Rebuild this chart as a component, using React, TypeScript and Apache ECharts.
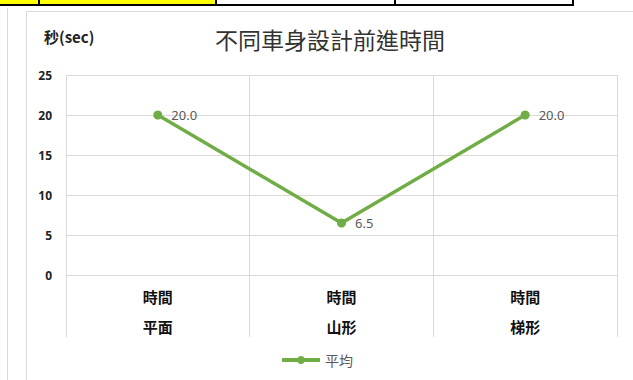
import React, { useEffect, useRef } from "react";
import * as echarts from "echarts";

const categoriesTop = ["時間", "時間", "時間"];
const categoriesBottom = ["平面", "山形", "梯形"];
const averageValues = [20.0, 6.5, 20.0];
const seriesName = "平均";
const chartTitle = "不同車身設計前進時間";
const yAxisName = "秒(sec)";

const CJK = '"Noto Sans CJK TC", "Noto Sans", sans-serif';

export default function App() {
  const ref = useRef<HTMLDivElement>(null);
  useEffect(() => {
    if (!ref.current) return;
    const chart = echarts.init(ref.current, null, { renderer: "svg" });
    const cats = categoriesTop.map((t, i) => t + "\n" + categoriesBottom[i]);
    chart.setOption({
      animation: false,
      backgroundColor: "#ffffff",
      title: {
        text: chartTitle,
        left: 210,
        top: 22,
        textStyle: { fontFamily: CJK, fontSize: 23, fontWeight: "normal", color: "#333333" },
      },
      legend: {
        data: [seriesName],
        left: "center",
        top: 348,
        itemWidth: 38,
        itemHeight: 10,
        lineStyle: { width: 4 },
        textStyle: { fontFamily: CJK, fontSize: 14, color: "#595959" },
      },
      grid: { left: 66, top: 75, right: 16, bottom: 105, containLabel: false },
      xAxis: {
        type: "category",
        data: cats,
        boundaryGap: true,
        axisLine: { show: true, lineStyle: { color: "#d9d9d9", width: 1 } },
        axisTick: { show: true, length: 62, interval: 0, lineStyle: { color: "#d9d9d9", width: 1 } },
        splitLine: { show: true, interval: 0, lineStyle: { color: "#d9d9d9", width: 1 } },
        axisLabel: {
          interval: 0,
          margin: 6,
          fontFamily: CJK,
          fontSize: 15,
          fontWeight: "bold",
          color: "#111111",
          lineHeight: 30,
        },
      },
      yAxis: {
        type: "value",
        min: 0,
        max: 25,
        interval: 5,
        axisLine: { show: false },
        axisTick: { show: false },
        splitLine: { show: true, lineStyle: { color: "#d9d9d9", width: 1 } },
        axisLabel: {
          margin: 14,
          fontFamily: '"Open Sans", "Noto Sans", sans-serif',
          fontSize: 12,
          fontWeight: "bold",
          color: "#222222",
        },
      },
      series: [
        {
          name: seriesName,
          type: "line",
          data: averageValues,
          symbol: "circle",
          symbolSize: 9,
          itemStyle: { color: "#70AD47" },
          lineStyle: { color: "#70AD47", width: 3.5 },
          label: {
            show: true,
            position: "right",
            distance: 9,
            formatter: (p: any) => Number(p.value).toFixed(1),
            fontFamily: '"Noto Sans", sans-serif',
            fontSize: 13,
            color: "#595959",
          },
        },
      ],
      graphic: [
        { type: "rect", shape: { x: 0, y: 0, width: 216, height: 4 }, style: { fill: "#ffff00" }, silent: true },
        { type: "rect", shape: { x: 0, y: 4, width: 574, height: 2 }, style: { fill: "#000000" }, silent: true },
        { type: "rect", shape: { x: 38, y: 0, width: 2, height: 5 }, style: { fill: "#000000" }, silent: true },
        { type: "rect", shape: { x: 215, y: 0, width: 2, height: 5 }, style: { fill: "#000000" }, silent: true },
        { type: "rect", shape: { x: 394, y: 0, width: 2, height: 5 }, style: { fill: "#000000" }, silent: true },
        { type: "rect", shape: { x: 572, y: 0, width: 2, height: 5 }, style: { fill: "#000000" }, silent: true },
        { type: "line", shape: { x1: 7.5, y1: 8, x2: 7.5, y2: 380 }, style: { stroke: "#d9d9d9", lineWidth: 1 }, silent: true },
        { type: "line", shape: { x1: 26.5, y1: 11.5, x2: 26.5, y2: 380 }, style: { stroke: "#d9d9d9", lineWidth: 1 }, silent: true },
        { type: "line", shape: { x1: 26.5, y1: 11.5, x2: 633, y2: 11.5 }, style: { stroke: "#d9d9d9", lineWidth: 1 }, silent: true },
        {
          type: "text",
          left: 44,
          top: 29,
          style: { text: yAxisName, fontFamily: CJK, fontSize: 15, fontWeight: "bold", fill: "#222222" },
        },
      ],
    });
    return () => chart.dispose();
  }, []);
  return <div ref={ref} style={{ position: "fixed", left: 0, top: 0, width: 633, height: 380 }} />;
}
